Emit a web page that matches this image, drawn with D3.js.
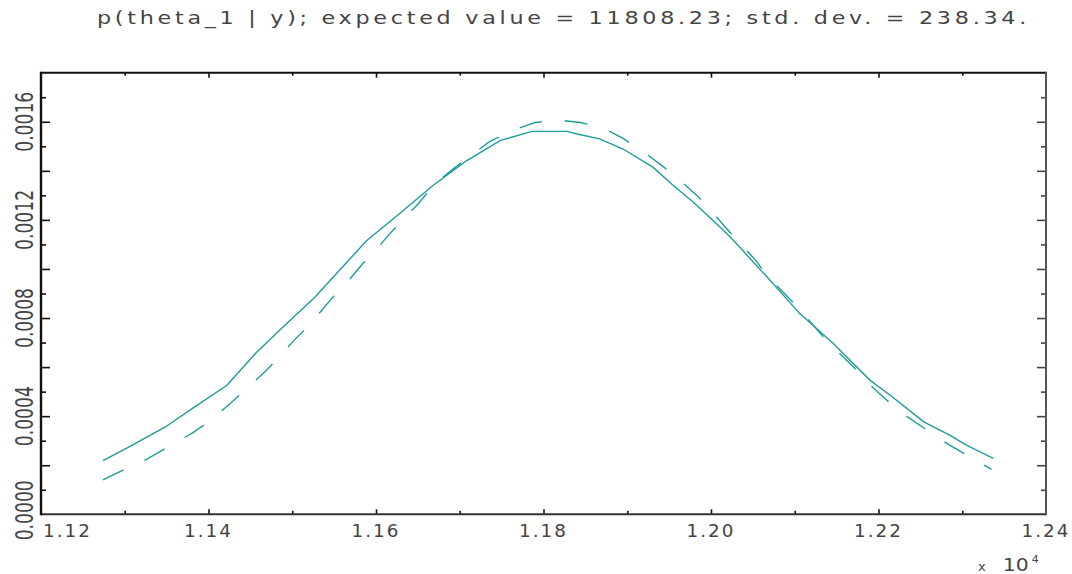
<!DOCTYPE html>
<html><head><meta charset="utf-8">
<script src="https://cdn.jsdelivr.net/npm/d3@7"></script>
<style>body{margin:0;background:#fff;overflow:hidden}</style>
</head><body><svg id="c" width="1072" height="574"></svg>
<script>
const titleText = "p(theta_1 | y); expected value = 11808.23; std. dev. = 238.34.";

// solid curve (posterior density)
const solidX = [11274,11304,11348,11384,11422,11456,11487,11527,11549,11589,11629,11668,11708,11748,11786,11828,11840,11867,11895,11931,11955,11979,12011,12027,12067,12106,12146,12190,12214,12254,12285,12305,12337];
const solidY = [0.000219,0.000273,0.000355,0.000439,0.000526,0.000655,0.000757,0.000885,0.000967,0.001116,0.001228,0.00134,0.001441,0.001523,0.001561,0.001561,0.00155,0.00153,0.001489,0.001414,0.00134,0.001272,0.00117,0.001116,0.000967,0.000818,0.000696,0.000546,0.000485,0.000377,0.000323,0.000282,0.000228];

// dashed curve (normal approximation)
const dashX = [11274,11300,11326,11352,11380,11404,11428,11447,11467,11484,11502,11519,11547,11569,11584,11601,11617,11635,11651,11670,11693,11716,11736,11764,11790,11818,11844,11870,11895,11922,11944,11967,11986,12003,12019,12037,12053,12068,12084,12106,12134,12150,12172,12188,12210,12230,12258,12283,12310,12335];
const dashY = [0.00014,0.000183,0.000224,0.000275,0.00033,0.000386,0.000458,0.000517,0.00058,0.000639,0.000709,0.000766,0.000879,0.00096,0.001021,0.001082,0.001146,0.001211,0.001268,0.001347,0.00141,0.001469,0.00152,0.001566,0.001597,0.001607,0.001597,0.001577,0.001532,0.001471,0.001414,0.001349,0.00129,0.001226,0.001163,0.001096,0.001037,0.000967,0.000913,0.000835,0.000723,0.000668,0.000594,0.000533,0.000465,0.000408,0.000343,0.000286,0.000232,0.000183];

const xTickValues = [11200,11400,11600,11800,12000,12200,12400];
const xTickLabels = ["1.12","1.14","1.16","1.18","1.20","1.22","1.24"];
const xMinorTicks = [11300,11500,11700,11900,12100,12300];
const yTickValues = [0,0.0004,0.0008,0.0012,0.0016];
const yTickLabels = ["0.0000","0.0004","0.0008","0.0012","0.0016"];
const yMajorTicks = [0.0002,0.0004,0.0006,0.0008,0.0010,0.0012,0.0014,0.0016];
const yMinorTicks = [0.0001,0.0003,0.0005,0.0007,0.0009,0.0011,0.0013,0.0015,0.0017];
const xExponent = "4";

const L = 41, R = 1046, T = 72.7, B = 514.3;
const x = d3.scaleLinear().domain([11200, 12400]).range([L, R]);
const y = d3.scaleLinear().domain([0, 0.0018]).range([B, T]);

const svg = d3.select("#c");
const teal = "#1f9b9b";

// ticks via axes
function ticks(axisGen, tf) {
  const g = svg.append("g").attr("transform", tf).call(axisGen);
  g.select(".domain").remove();
  g.selectAll(".tick line").attr("stroke", "#111").attr("stroke-width", 1.6);
  g.selectAll("text").remove();
  return g;
}
ticks(d3.axisRight(y).tickValues(yMajorTicks).tickSize(9).tickFormat(""), `translate(${L},0)`);
ticks(d3.axisRight(y).tickValues(yMinorTicks).tickSize(5).tickFormat(""), `translate(${L},0)`);
ticks(d3.axisLeft(y).tickValues(yMajorTicks).tickSize(9).tickFormat(""), `translate(${R},0)`).selectAll("line").attr("stroke","#444");
ticks(d3.axisLeft(y).tickValues(yMinorTicks).tickSize(5).tickFormat(""), `translate(${R},0)`).selectAll("line").attr("stroke","#444");
ticks(d3.axisTop(x).tickValues(xTickValues.slice(1,-1)).tickSize(5).tickFormat(""), `translate(0,${B})`);
ticks(d3.axisTop(x).tickValues(xMinorTicks).tickSize(3.5).tickFormat(""), `translate(0,${B})`);
ticks(d3.axisBottom(x).tickValues(xTickValues.slice(1,-1)).tickSize(5).tickFormat(""), `translate(0,${T})`);
ticks(d3.axisBottom(x).tickValues(xMinorTicks).tickSize(3).tickFormat(""), `translate(0,${T})`);

// frame
svg.append("line").attr("x1", L).attr("x2", R).attr("y1", T).attr("y2", T).attr("stroke", "#111").attr("stroke-width", 2);
svg.append("line").attr("x1", L).attr("x2", R).attr("y1", B).attr("y2", B).attr("stroke", "#333").attr("stroke-width", 2);
svg.append("line").attr("x1", L).attr("x2", L).attr("y1", T - 1).attr("y2", B + 1).attr("stroke", "#111").attr("stroke-width", 2.4);
svg.append("line").attr("x1", R).attr("x2", R).attr("y1", T - 1).attr("y2", B + 1).attr("stroke", "#555").attr("stroke-width", 2);

// curves
const solid = solidX.map((v, i) => [v, solidY[i]]);
const dashed = dashX.map((v, i) => [v, dashY[i]]);
const line = d3.line().x(d => x(d[0])).y(d => y(d[1]));
svg.append("path").attr("d", line(solid)).attr("fill", "none").attr("stroke", teal).attr("stroke-width", 1.4);
svg.append("path").attr("d", line(dashed)).attr("fill", "none").attr("stroke", teal).attr("stroke-width", 1.4).attr("stroke-dasharray", "23,23");

// x tick labels
const font = "DejaVu Sans, sans-serif";
svg.append("g").selectAll("text").data(xTickValues).join("text")
  .attr("x", (d, i) => i === 0 ? 43 : x(d))
  .attr("y", 537)
  .attr("text-anchor", (d, i) => i === 0 ? "start" : "middle")
  .attr("font-family", font).attr("font-size", 18).attr("fill", "#444")
  .attr("letter-spacing", 2)
  .attr("textLength", 49).attr("lengthAdjust", "spacingAndGlyphs")
  .text((d, i) => xTickLabels[i]);

// y tick labels
svg.append("g").selectAll("text").data(yTickValues).join("text")
  .attr("transform", (d, i) => `translate(33,${y(d) - (i === 0 ? 4 : 0)}) rotate(-90)`)
  .attr("text-anchor", "middle")
  .attr("font-family", font).attr("font-size", 24).attr("fill", "#444")
  .attr("textLength", 60).attr("lengthAdjust", "spacingAndGlyphs")
  .text((d, i) => yTickLabels[i]);

// exponent
const ex = svg.append("text").attr("x", 978).attr("y", 571).attr("font-family", font).attr("fill", "#444");
ex.append("tspan").attr("font-size", 13).text("x");
ex.append("tspan").attr("font-size", 18).attr("dx", 17).attr("textLength", 26).attr("lengthAdjust", "spacingAndGlyphs").text("10");
ex.append("tspan").attr("font-size", 11).attr("dx", 3).attr("dy", -8).text(xExponent);

// title
svg.append("text").attr("x", 97).attr("y", 24)
  .attr("font-family", font).attr("font-size", 18).attr("fill", "#444")
  .attr("letter-spacing", 3)
  .attr("textLength", 933).attr("lengthAdjust", "spacingAndGlyphs")
  .text(titleText);
</script>
</body></html>
